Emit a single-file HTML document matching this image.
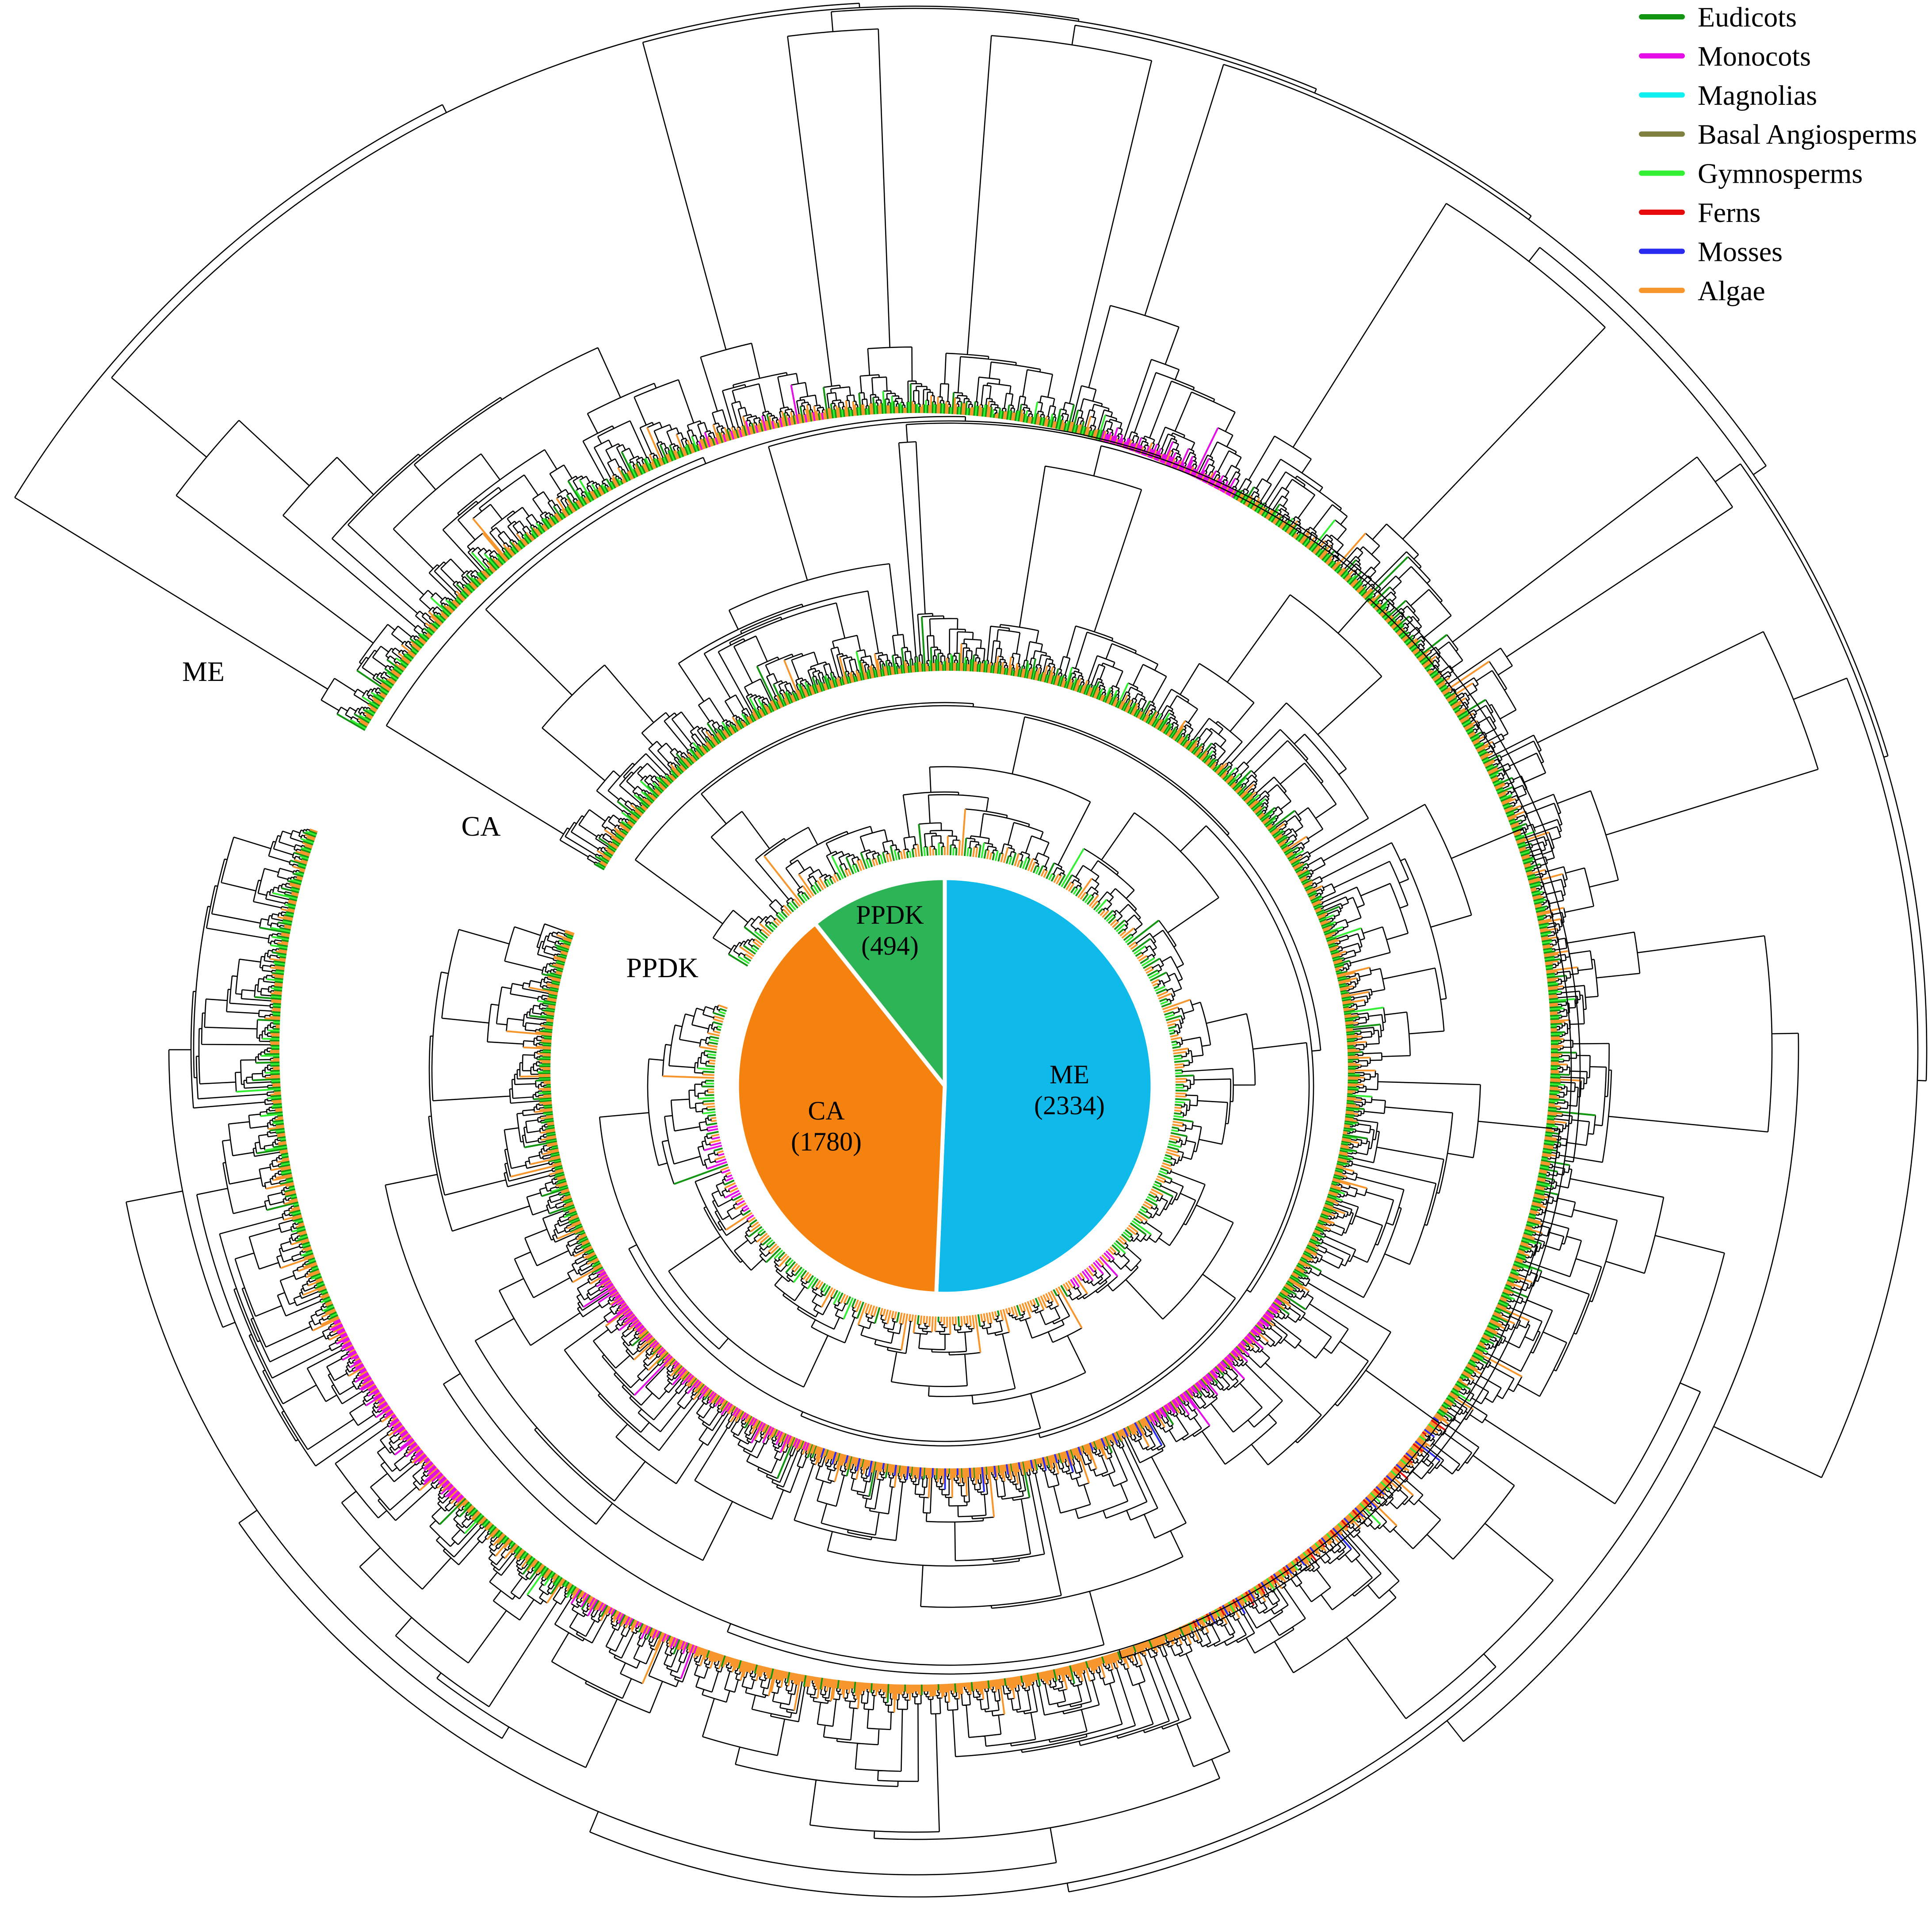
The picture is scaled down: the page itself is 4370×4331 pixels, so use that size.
<!DOCTYPE html>
<html><head><meta charset="utf-8">
<style>
html,body{margin:0;padding:0;background:#fff;}
svg{display:block;}
text{font-family:"Liberation Serif",serif;fill:#000;}
</style></head>
<body>
<svg id="chart" xmlns="http://www.w3.org/2000/svg" width="4370" height="4331" viewBox="0 0 4370 4331">
<rect x="0" y="0" width="4370" height="4331" fill="#fff"/>
<g id="trees"></g>
<g id="pie"></g>
<g>
<text x="460" y="1540" font-size="64" text-anchor="middle">ME</text>
<text x="1088" y="1890" font-size="64" text-anchor="middle">CA</text>
<text x="1498" y="2210" font-size="64" text-anchor="middle">PPDK</text>
</g>
<g id="legend"></g>
</svg>
<script>
// ---- data ----
const pieLabels = ["ME", "CA", "PPDK"];
const pieValues = [2334, 1780, 494];
const pieColors = ["#0fbaea", "#f5820f", "#2db457"];

const legendLabels = ["Eudicots","Monocots","Magnolias","Basal Angiosperms","Gymnosperms","Ferns","Mosses","Algae"];
const legendKeys = ["E","M","Mg","B","G","F","Mo","A"];
const groupColors = {E:"#129612",M:"#e60ee6",Mg:"#11f0f0",B:"#7f7f3f",G:"#33f033",F:"#e60a0a",Mo:"#2a2af0",A:"#f7962d"};

const meTips = 2334, caTips = 1780, ppdkTips = 494;
const meCladeBounds = [210,214,252,262,272,284,300,322,333,350,370,395,425,470,505,535,560];
const meCladeHeights = [120,650,200,870,860,300,820,780,700,500,450,440,350,350,220,200];
const meBackbone = [950,930,920,915,905,895,860,850,830,560,500,480,430,380,250];
const caCladeBounds = [210,218,235,265,275,300,330,360,390,420,470,520,560];
const caCladeHeights = [120,300,250,520,480,420,330,300,260,320,340,280];
const caBackbone = [590,575,565,560,550,525,505,485,465,445,400];
const ppdkCladeBounds = [211,225,260,300,340,380,420,470,520,560];
const ppdkCladeHeights = [100,250,200,230,180,200,200,230,150];
const ppdkBackbone = [345,338,332,312,302,292,282,262];
const meZoneStart = [250,287,395,425,470,495];
const meZoneEnd   = [262,300,425,470,482,515];
const meZoneMix   = ["AAEAM","MMAMMMAM","AAAMoAFAAG","AAAAAAEAAA","MAMAAE","MMAMMAMMA"];
const caZoneStart = [395,420,470,500];
const caZoneEnd   = [420,470,500,510];
const caZoneMix   = ["MMAMMAE","AAAAAEAAMo","AAMAMAE","MAMMA"];
const ppdkZoneStart = [405,420,505];
const ppdkZoneEnd   = [418,470,530];
const ppdkZoneMix   = ["MMAMA","AAAAEAA","MMAMAE"];
const defaultMix = ["E","A","E","E","A","E","A","G","E","A","E","E"];
const splitPattern = [0.5,0.1,0.3,0.05,0.6,0.2,0.08,0.45,0.15,0.7,0.03,0.35,0.25,0.9,0.12,0.55,0.04,0.4];
const heightVar = [1,0.8,1.15,0.9,1.05,0.7,1.2,0.95,0.85,1.1];

const NS = "http://www.w3.org/2000/svg";
function mk(tag, attrs, parent){const e=document.createElementNS(NS,tag);for(const k in attrs)e.setAttribute(k,attrs[k]);parent.appendChild(e);return e;}
const rad = d => d*Math.PI/180;

let si=0, vi=0;
function drawTree(name, cx, cy, R, nTips, bounds, cH, backbone, zs, ze, zm){
  const g = mk("g",{},document.getElementById("trees"));
  
  
  const a0=bounds[0], a1=bounds[bounds.length-1];
  const step=(a1-a0)/nTips;
  const tipAngle=i=>a0+(i+0.5)*step;
  let black="";
  const col={};
  const pt=(a,r)=>[(cx+r*Math.cos(rad(a))).toFixed(1),(cy+r*Math.sin(rad(a))).toFixed(1)];
  function tipColor(i){
    const a=tipAngle(i);
    for(let z=0;z<zs.length;z++){ if(a>=zs[z]&&a<ze[z]){ const s=zm[z].match(/Mo|Mg|[A-Z]/g); return s[i%s.length]; } }
    return defaultMix[(i*7+Math.floor(i/5))%defaultMix.length];
  }
  function radial(a,r1,r2,c){
    const p=pt(a,r1),q=pt(a,r2);
    const s="M"+p[0]+" "+p[1]+"L"+q[0]+" "+q[1];
    if(c){col[c]=(col[c]||"")+s;} else black+=s;
  }
  function arc(aS,aE,r){
    const p=pt(aS,r),q=pt(aE,r);
    black+="M"+p[0]+" "+p[1]+"A"+r.toFixed(1)+" "+r.toFixed(1)+" 0 "+((aE-aS)>180?1:0)+" 1 "+q[0]+" "+q[1];
  }
  function hFor(k,H){ if(k===1) return 0; return Math.max(9, Math.min(H-6, 15*Math.pow(k,0.6)*heightVar[vi++%heightVar.length])); }
  function emit(child,H){
    if(child.leaf) radial(child.a,R,R+H,tipColor(child.idx));
    else radial(child.a,R+child.h,R+H,null);
  }
  function join(l,r,H){
    arc(l.a,r.a,R+H);
    emit(l,H); emit(r,H);
    return {leaf:false,a:(l.a+r.a)/2,h:H};
  }
  function build(lo,hi,H){
    const n=hi-lo;
    if(n===1) return {leaf:true,idx:lo,a:tipAngle(lo)};
    const f=splitPattern[si++%splitPattern.length];
    const k=Math.max(1,Math.min(n-1,Math.round(n*f)));
    const L=build(lo,lo+k,hFor(k,H));
    const Rn=build(lo+k,hi,hFor(n-k,H));
    return join(L,Rn,H);
  }
  const clades=[]; let start=0;
  for(let c=0;c<cH.length;c++){
    let end = c===cH.length-1 ? nTips : Math.round(nTips*(bounds[c+1]-a0)/(a1-a0));
    if(end<=start) end=start+1;
    const h = (end-start)===1?0:cH[c];
    clades.push(build(start,end,h));
    start=end;
  }
  let node=clades[clades.length-1];
  for(let i=clades.length-2;i>=0;i--) node=join(clades[i],node,backbone[i]);
  const bp=mk("path",{d:black,fill:"none",stroke:"#000","stroke-width":"2.6"},g);
  
  
  for(const c in col){
    const cp=mk("path",{d:col[c],fill:"none",stroke:groupColors[c],"stroke-width":"4"},g);
    
    
  }
}
drawTree("me-tree",2070,2372,1438,meTips,meCladeBounds,meCladeHeights,meBackbone,meZoneStart,meZoneEnd,meZoneMix);
drawTree("ca-tree",2147,2419,902,caTips,caCladeBounds,caCladeHeights,caBackbone,caZoneStart,caZoneEnd,caZoneMix);
drawTree("ppdk-tree",2137,2456,522,ppdkTips,ppdkCladeBounds,ppdkCladeHeights,ppdkBackbone,ppdkZoneStart,ppdkZoneEnd,ppdkZoneMix);

(function(){
  const g=document.getElementById("pie");
  const cx=2137, cy=2456, r=470;
  const total=pieValues.reduce((a,b)=>a+b,0);
  let ang=-90;
  const labelPos=[];
  for(let i=0;i<pieValues.length;i++){
    const sw=pieValues[i]/total*360;
    const e=ang+sw;
    const p=[cx+r*Math.cos(rad(ang)),cy+r*Math.sin(rad(ang))];
    const q=[cx+r*Math.cos(rad(e)),cy+r*Math.sin(rad(e))];
    const s=mk("path",{d:`M${cx} ${cy}L${p[0]} ${p[1]}A${r} ${r} 0 ${sw>180?1:0} 1 ${q[0]} ${q[1]}Z`,fill:pieColors[i],stroke:"#fff","stroke-width":"9","stroke-linejoin":"round"},g);
    
    
    const mid=ang+sw/2;
    const lr = i===2 ? 0.8*r : 0.6*r;
    labelPos.push([cx+lr*Math.cos(rad(mid)),cy+lr*Math.sin(rad(mid))]);
    ang=e;
  }
  for(let i=0;i<pieValues.length;i++){
    const t1=mk("text",{x:labelPos[i][0].toFixed(0),y:(labelPos[i][1]-12).toFixed(0),"font-size":"60","text-anchor":"middle"},g);
    t1.textContent=pieLabels[i];
    
    
    const t2=mk("text",{x:labelPos[i][0].toFixed(0),y:(labelPos[i][1]+58).toFixed(0),"font-size":"60","text-anchor":"middle"},g);
    t2.textContent="("+pieValues[i]+")";
    
    
  }
})();

(function(){
  const g=document.getElementById("legend");
  for(let i=0;i<legendLabels.length;i++){
    const y=38+i*88.4;
    const ln=mk("line",{x1:3713,y1:y,x2:3805,y2:y,stroke:groupColors[legendKeys[i]],"stroke-width":"12","stroke-linecap":"round"},g);
    
    
    const t=mk("text",{x:3840,y:y+22,"font-size":"64"},g);
    t.textContent=legendLabels[i];
    
    
  }
})();
</script>
</body></html>
